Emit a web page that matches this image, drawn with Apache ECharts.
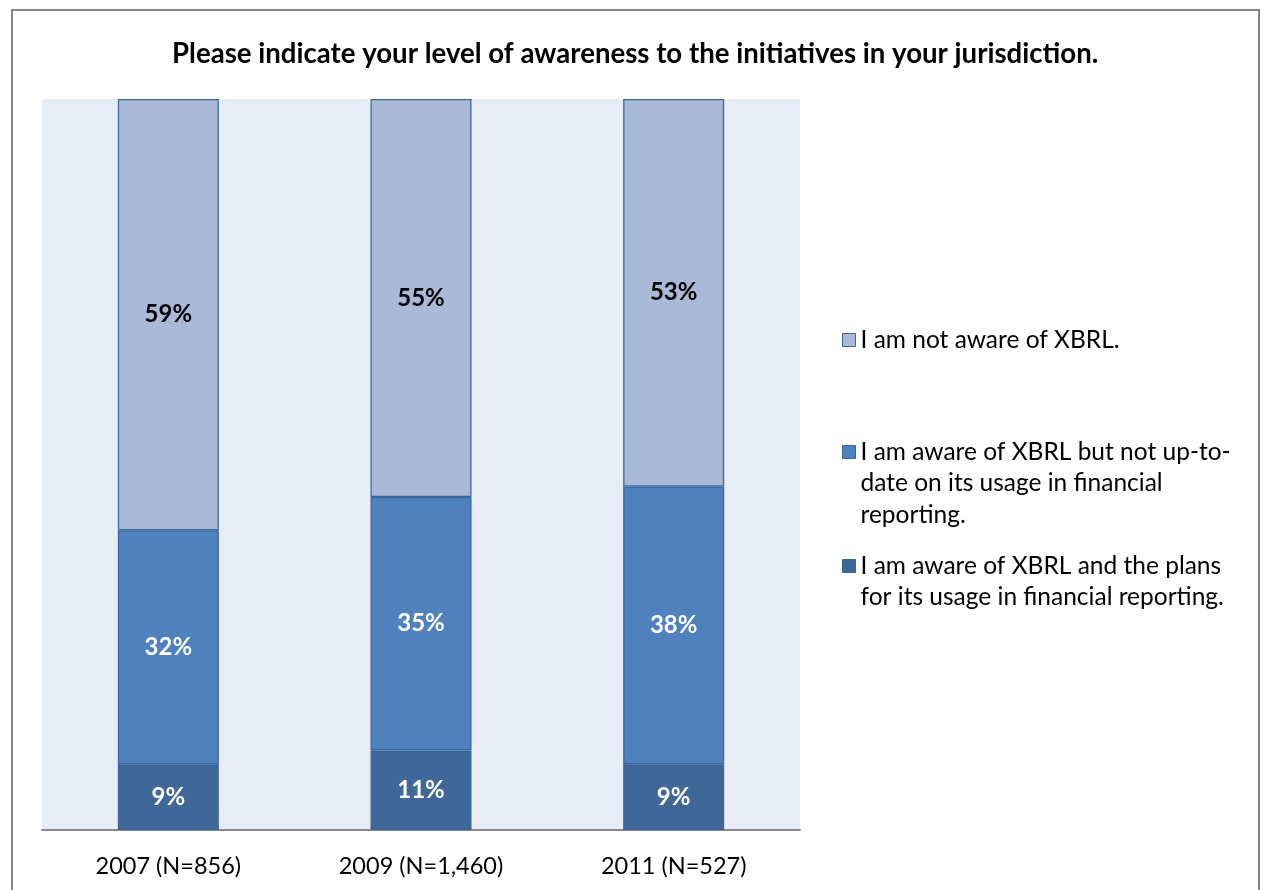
<!DOCTYPE html>
<html><head><meta charset="utf-8">
<script src="https://cdn.jsdelivr.net/npm/echarts@6/dist/echarts.min.js"></script>
<style>html,body{margin:0;padding:0;background:#fff}#c{width:1261px;height:890px}</style>
</head><body><div id="c"></div>
<script>
const titleText = 'Please indicate your level of awareness to the initiatives in your jurisdiction.';
const categories = ['2007 (N=856)', '2009 (N=1,460)', '2011 (N=527)'];
const seriesNames = [
  'I am aware of XBRL and the plans\nfor its usage in financial reporting.',
  'I am aware of XBRL but not up-to-\ndate on its usage in financial\nreporting.',
  'I am not aware of XBRL.'
];
const awarePlans = [9, 11, 9];
const awareNotUpToDate = [32, 35, 38];
const notAware = [59, 55, 53];
const colors = ['#3F6899', '#4F81BD', '#AAB9D7'];
const labelColors = ['#ffffff', '#ffffff', '#000000'];

const raw = [awarePlans, awareNotUpToDate, notAware];
const totals = categories.map((_, i) => raw.reduce((s, a) => s + a[i], 0));
const FONT = 'Lato, "Open Sans", sans-serif';
const LH = 31.5;

const series = raw.map((arr, k) => ({
  name: seriesNames[k],
  type: 'bar',
  stack: 'total',
  barWidth: 101,
  data: arr.map((v, i) => ({ value: v / totals[i] * 100 })),
  itemStyle: { color: colors[k], borderColor: '#3A679B', borderWidth: 1.3 },
  label: {
    show: true, position: 'inside', color: labelColors[k],
    fontFamily: FONT, fontWeight: 'bold', fontSize: 24,
    formatter: p => arr[p.dataIndex] + '%'
  }
}));

const legendCenters = [340, 452, 566];
const legendOrder = [2, 1, 0];
const legends = legendOrder.map((k, j) => {
  const lines = seriesNames[k].split('\n').length;
  const blockH = (2 * lines - 1) * LH;
  return {
    data: [seriesNames[k]],
    left: 842, top: legendCenters[j] - blockH / 2,
    padding: 0,
    orient: 'vertical',
    icon: 'rect', itemWidth: 13, itemHeight: 13, itemGap: 0,
    selectedMode: false,
    itemStyle: { borderColor: '#3A679B', borderWidth: 1 },
    formatter: name => ' \n'.repeat(lines - 1) + name,
    textStyle: { fontFamily: FONT, fontSize: 24.5, color: '#000', lineHeight: LH },
    align: 'left'
  };
});

const chart = echarts.init(document.getElementById('c'));
chart.setOption({
  animation: false,
  color: colors,
  title: {
    text: titleText, left: 172, top: 40, padding: 0,
    textStyle: { fontFamily: FONT, fontWeight: 'bold', fontSize: 27.6, color: '#000' }
  },
  legend: legends,
  grid: { left: 42, right: 461, top: 99, bottom: 60, show: true, backgroundColor: '#E8ECF4', borderWidth: 0 },
  xAxis: {
    type: 'category', data: categories,
    axisLine: { lineStyle: { color: '#888888', width: 2 } },
    axisTick: { show: false },
    axisLabel: { fontFamily: FONT, fontSize: 23.5, color: '#000', margin: 24 }
  },
  yAxis: { type: 'value', min: 0, max: 100, show: false, splitLine: { show: false } },
  series: series,
  graphic: [{
    type: 'rect', shape: { x: 12, y: 10, width: 1247, height: 900 },
    style: { fill: 'none', stroke: '#868686', lineWidth: 2 }, silent: true, z: 100
  }]
});
</script></body></html>
